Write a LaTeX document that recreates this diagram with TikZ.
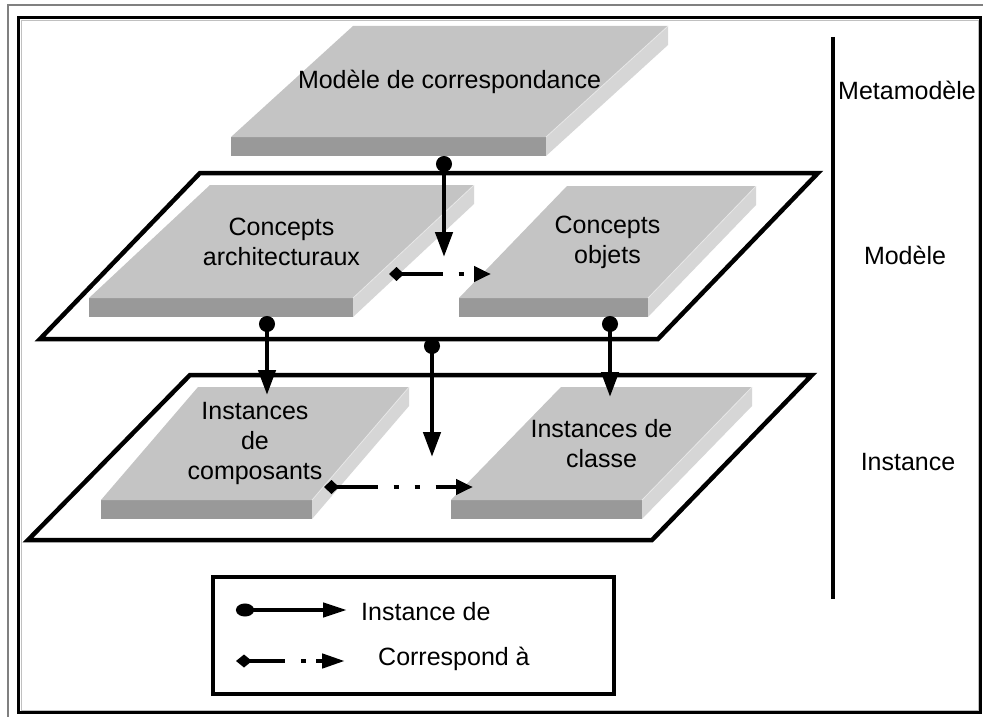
\documentclass[tikz,border=0pt]{standalone}
\usepackage{fontspec}
\setmainfont{Liberation Sans}
\usepackage{xcolor}
\usepackage{tikz}
\usetikzlibrary{arrows.meta, positioning, calc}
\definecolor{SlabTop}{RGB}{196, 196, 196}
\definecolor{SlabFront}{RGB}{153, 153, 153}
\definecolor{SlabSide}{RGB}{214, 214, 214}
\definecolor{FrameGray}{RGB}{128, 128, 128}

\tikzset{
  slabtext/.style={align=center, inner sep=0pt, font=\fontsize{25}{30}\selectfont},
  layertext/.style={inner sep=0pt, font=\fontsize{25}{30}\selectfont},
  plane/.style={draw=black, fill=white, line width=4.5pt, line join=miter},
  instof/.style={line width=4.5pt, {Ellipse[length=16pt, width=16pt]}-{Triangle[length=25pt, width=17pt]}},
  corresp/.style={line width=4.5pt, dash pattern=on 42pt off 16pt on 5pt off 16pt on 5pt off 16pt,
    {Diamond[length=15pt, width=14pt]}-{Triangle[length=17pt, width=15pt]}}
}

% slab: name, front left x, front top y, front width, depth dx, depth dy, text
\newcommand{\slab}[7]{%
  \fill[SlabFront] (#2,#3) rectangle ++(#4,19);
  \fill[SlabSide] (#2+#4,#3) -- ++(#5,-#6) -- ++(0,19) -- ++(-#5,#6) -- cycle;
  \fill[SlabTop] (#2,#3) -- ++(#5,-#6) -- ++(#4,0) -- ++(-#5,#6) -- cycle;
  \draw[white, opacity=0.5, line width=0.8pt] (#2+#4,#3) -- ++(#5,-#6);
  \node[slabtext] (#1) at (#2+#4/2+#5/2, #3-#6/2) {#7};
}

\begin{document}
\begin{tikzpicture}[x=1pt, y=-1pt]
  \useasboundingbox (0,0) rectangle (983,717);

  % frame
  \draw[FrameGray, line width=1.5pt] (8,717) -- (8,5) -- (983,5);
  \draw[line width=3.5pt] (18.5,17.5) rectangle (980.5,712.5);
  \draw[FrameGray!50, line width=0.8pt] (21,20) rectangle (978.5,710);

  % layers
  \draw[plane] (190,375) -- (812,375) -- (652,540) -- (28,540) -- cycle;
  \draw[plane] (200,173) -- (818,173) -- (658,339) -- (40,339) -- cycle;

  \slab{corr}{231}{137}{315}{122}{111}{Modèle de correspondance}
  \slab{arch}{89}{298}{264}{121}{113}{Concepts\\architecturaux}
  \slab{obj}{459}{298}{189}{108}{112}{Concepts\\objets}
  \slab{comp}{101}{500}{211}{97}{113}{Instances\\de\\composants}
  \slab{cls}{451}{500}{191}{110}{113}{Instances de\\classe}

  % connector ends
  \coordinate (corrOut) at (444,156);
  \coordinate (midIn) at (444,257);
  \coordinate (archOut) at (267,316);
  \coordinate (compIn) at (267,395);
  \coordinate (midOut) at (432,338);
  \coordinate (lowIn) at (432,457);
  \coordinate (objOut) at (610,316);
  \coordinate (clsIn) at (610,397);
  \coordinate (archSide) at (389,274);
  \coordinate (objSide) at (491,274);
  \coordinate (compSide) at (324,487);
  \coordinate (clsSide) at (473,487);

  \draw[instof] (corrOut) -- (midIn);
  \draw[instof] (archOut) -- (compIn);
  \draw[instof] (midOut) -- (lowIn);
  \draw[instof] (objOut) -- (clsIn);
  \draw[corresp] (archSide) -- (objSide);
  \draw[corresp] (compSide) -- (clsSide);

  % level axis
  \coordinate (axTop) at (833,37);
  \coordinate (axBot) at (833,599);
  \draw[line width=4.5pt] (axTop) -- (axBot);
  \node[layertext] (lMeta) at (907,90) {Metamodèle};
  \node[layertext] (lMod) at (905,255) {Modèle};
  \node[layertext] (lInst) at (908,462) {Instance};

  % legend
  \draw[line width=3.5pt] (213,577) rectangle (614,694);
  \node[layertext, anchor=west] (legInst) at (361,612) {Instance de};
  \node[layertext, anchor=west] (legCorr) at (378,659) {Correspond à};
  \coordinate (legA) at (236,610);
  \coordinate (legB) at (347,610);
  \coordinate (legC) at (236,661);
  \coordinate (legD) at (345,661);
  \draw[line width=4.5pt, {Ellipse[length=18pt, width=13pt]}-{Triangle[length=24pt, width=14pt]}] (legA) -- (legB);
  \draw[corresp, dash pattern=on 37pt off 16pt on 5pt off 10pt on 10pt off 0pt,
    {Diamond[length=16pt, width=13pt]}-{Triangle[length=23pt, width=14pt]}] (legC) -- (legD);
\end{tikzpicture}
\end{document}
